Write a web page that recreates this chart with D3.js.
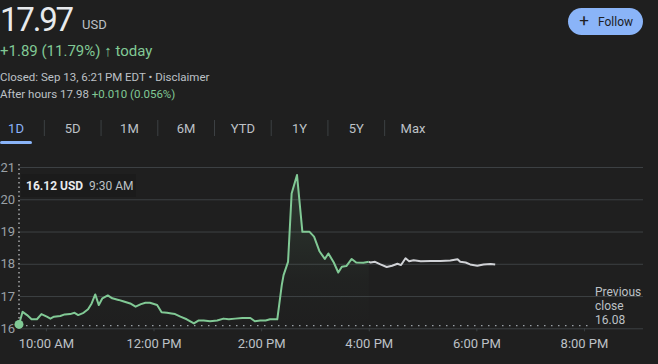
<!DOCTYPE html>
<html>
<head>
<meta charset="utf-8">
<script src="https://cdn.jsdelivr.net/npm/d3@7"></script>
<style>
  html, body { margin: 0; padding: 0; background: #1f1f1f; }
  svg { display: block; font-family: Roboto, "Noto Sans", Arial, sans-serif; }
</style>
</head>
<body>
<svg id="chart" width="658" height="364"></svg>
<script>
// ---------- data ----------
const regularTimes = ["9:30","9:34","9:39","9:44","9:50","9:55","10:01","10:05","10:09","10:16","10:21","10:27","10:32","10:36","10:42","10:47","10:51","10:55","10:59","11:03","11:09","11:14","11:21","11:26","11:34","11:40","11:46","11:51","11:56","12:04","12:09","12:15","12:20","12:24","12:30","12:37","12:45","12:50","12:56","13:03","13:11","13:18","13:24","13:31","13:39","13:48","13:53","13:59","14:05","14:10","14:18","14:23","14:25","14:30","14:34","14:40","14:46","14:54","14:59","15:05","15:11","15:15","15:21","15:26","15:30","15:35","15:41","15:46","15:54","16:00"];
const regularPrices = [16.12,16.51,16.41,16.28,16.28,16.44,16.36,16.30,16.36,16.38,16.43,16.44,16.48,16.41,16.48,16.59,16.77,17.05,16.72,16.93,17.02,16.93,16.88,16.84,16.77,16.67,16.75,16.79,16.79,16.72,16.50,16.48,16.46,16.44,16.36,16.28,16.15,16.24,16.24,16.22,16.24,16.30,16.28,16.30,16.32,16.32,16.22,16.24,16.24,16.28,16.28,17.34,17.65,18.06,20.18,20.75,18.99,18.99,18.84,18.39,18.15,18.32,18.04,17.73,17.91,17.93,18.15,18.04,18.03,18.06];
const afterTimes = ["16:00","16:02","16:07","16:13","16:20","16:26","16:32","16:36","16:41","16:45","16:50","16:58","17:09","17:20","17:31","17:39","17:42","17:48","17:53","18:01","18:08","18:16","18:21"];
const afterPrices = [18.06,18.04,18.06,17.98,17.90,17.94,18.00,17.96,18.17,18.08,18.11,18.08,18.09,18.09,18.10,18.14,18.06,18.04,17.98,17.94,17.98,17.99,17.98];
const yTicks = [16,17,18,19,20,21];
const xTickTimes = ["10:00","12:00","14:00","16:00","18:00","20:00"];
const xTickLabels = ["10:00 AM","12:00 PM","2:00 PM","4:00 PM","6:00 PM","8:00 PM"];
const tabs = ["1D","5D","1M","6M","YTD","1Y","5Y","Max"];
const previousClose = 16.08;
const hoverPrice = "16.12 USD";
const hoverTime = "9:30 AM";
const domainTimes = ["9:30","21:00"];

// ---------- helpers ----------
const toMin = s => { const [h,m] = s.split(":").map(Number); return h*60+m; };
const regular = regularTimes.map((t,i) => ({t: toMin(t), v: regularPrices[i]}));
const after = afterTimes.map((t,i) => ({t: toMin(t), v: afterPrices[i]}));

const svg = d3.select("#chart");
const GREEN = "#81c995", GREY = "#9aa0a6", LIGHT = "#bdc1c6";

// ---------- header ----------
svg.append("text").attr("x", 0).attr("y", 30.5).attr("fill", "#e8eaed")
  .attr("font-size", 33).attr("letter-spacing", -2.2)
  .text("17.97");
svg.append("text").attr("x", 82).attr("y", 29).attr("fill", LIGHT)
  .attr("font-size", 13).text("USD");
svg.append("text").attr("x", 0).attr("y", 56).attr("fill", GREEN)
  .attr("font-size", 15).text("+1.89 (11.79%) \u2191 today");
svg.append("text").attr("x", 0).attr("y", 81).attr("fill", LIGHT)
  .attr("font-size", 11.5).text("Closed: Sep 13, 6:21\u202FPM EDT \u2022 Disclaimer");
const ah = svg.append("text").attr("x", 0).attr("y", 98).attr("font-size", 11.5);
ah.append("tspan").attr("fill", LIGHT).text("After hours 17.98 ");
ah.append("tspan").attr("fill", GREEN).text("+0.010 (0.056%)");

// Follow button
svg.append("rect").attr("x", 568).attr("y", 8).attr("width", 75).attr("height", 27)
  .attr("rx", 13.5).attr("fill", "#8ab4f8");
svg.append("text").attr("x", 584).attr("y", 26).attr("fill", "#202124")
  .attr("font-size", 17).attr("text-anchor", "middle").text("+");
svg.append("text").attr("x", 598).attr("y", 25.5).attr("fill", "#202124")
  .attr("font-size", 12).text("Follow");

// Tabs
const tabX = d3.scalePoint().domain(tabs).range([16, 413]);
tabs.forEach((t,i) => {
  svg.append("text").attr("x", tabX(t)).attr("y", 133).attr("text-anchor", "middle")
    .attr("font-size", 13).attr("fill", i === 0 ? "#8ab4f8" : LIGHT).text(t);
  if (i > 0) {
    const sx = (tabX(tabs[i-1]) + tabX(t)) / 2;
    svg.append("line").attr("x1", sx).attr("x2", sx).attr("y1", 120).attr("y2", 136)
      .attr("stroke", "#3c4043").attr("stroke-width", 1);
  }
});
svg.append("rect").attr("x", 0).attr("y", 141).attr("width", 32).attr("height", 3)
  .attr("rx", 1.5).attr("fill", "#8ab4f8");

// ---------- chart ----------
const x = d3.scaleLinear().domain(domainTimes.map(toMin)).range([19, 637.8]);
const y = d3.scaleLinear().domain([16, 21]).range([328.3, 167]);

// y axis + gridlines
const yAxis = svg.append("g").attr("transform", "translate(20,0)")
  .call(d3.axisLeft(y).tickValues(yTicks).tickSize(-623).tickPadding(5).tickFormat(d3.format("d")));
yAxis.select(".domain").remove();
yAxis.selectAll(".tick line").attr("stroke", "#3c4043").attr("stroke-width", 1);
yAxis.selectAll(".tick text").attr("fill", GREY).attr("font-size", 13)
  .attr("font-family", "Roboto, sans-serif");

// x axis
const xAxis = svg.append("g").attr("transform", "translate(0,328.3)")
  .call(d3.axisBottom(x).tickValues(xTickTimes.map(toMin)).tickSize(3).tickPadding(7)
    .tickFormat((d,i) => xTickLabels[i]));
xAxis.select(".domain").remove();
xAxis.selectAll(".tick line").attr("stroke", "#3c4043");
xAxis.selectAll(".tick text").attr("fill", LIGHT).attr("font-size", 13)
  .attr("font-family", "Roboto, sans-serif");

// gradient area under regular session
const defs = svg.append("defs");
const grad = defs.append("linearGradient").attr("id", "areaGrad")
  .attr("x1", 0).attr("x2", 0).attr("y1", 0).attr("y2", 1);
grad.append("stop").attr("offset", "0%").attr("stop-color", GREEN).attr("stop-opacity", 0.16);
grad.append("stop").attr("offset", "70%").attr("stop-color", GREEN).attr("stop-opacity", 0.02);
grad.append("stop").attr("offset", "100%").attr("stop-color", GREEN).attr("stop-opacity", 0);

const area = d3.area().x(d => x(d.t)).y0(y(previousClose)).y1(d => y(d.v));
svg.append("path").datum(regular).attr("d", area).attr("fill", "url(#areaGrad)");

// previous close dotted line
svg.append("line").attr("x1", x(toMin("9:30"))).attr("x2", 590)
  .attr("y1", y(previousClose)).attr("y2", y(previousClose))
  .attr("stroke", "#9aa0a6").attr("stroke-width", 1.2).attr("stroke-dasharray", "1.5,5.5");

// previous close label
const pc = svg.append("text").attr("x", 595).attr("font-size", 12).attr("fill", LIGHT);
["Previous", "close", previousClose.toFixed(2)].forEach((s,i) => {
  pc.append("tspan").attr("x", 595).attr("y", 296 + i*14).text(s);
});

// lines
const line = d3.line().x(d => x(d.t)).y(d => y(d.v));
svg.append("path").datum(after).attr("d", line).attr("fill", "none")
  .attr("stroke", "#d0d2d6").attr("stroke-width", 2).attr("stroke-linejoin", "round");
svg.append("path").datum(regular).attr("d", line).attr("fill", "none")
  .attr("stroke", GREEN).attr("stroke-width", 2).attr("stroke-linejoin", "round");

// hover vertical dotted line
svg.append("line").attr("x1", x(regular[0].t)).attr("x2", x(regular[0].t))
  .attr("y1", 164).attr("y2", 328).attr("stroke", "#e8eaed").attr("stroke-width", 1)
  .attr("stroke-dasharray", "1.5,3");

// hover dot
svg.append("circle").attr("cx", x(regular[0].t)).attr("cy", y(regular[0].v)).attr("r", 4.5)
  .attr("fill", GREEN);

// tooltip
svg.append("rect").attr("x", 21).attr("y", 174).attr("width", 115).attr("height", 23)
  .attr("fill", "#1b1b1b");
const tt = svg.append("text").attr("x", 26).attr("y", 190).attr("font-size", 12);
tt.append("tspan").attr("fill", "#e8eaed").attr("font-weight", "bold").text(hoverPrice);
tt.append("tspan").attr("dx", 6).attr("fill", LIGHT).text(hoverTime);
</script>
</body>
</html>
